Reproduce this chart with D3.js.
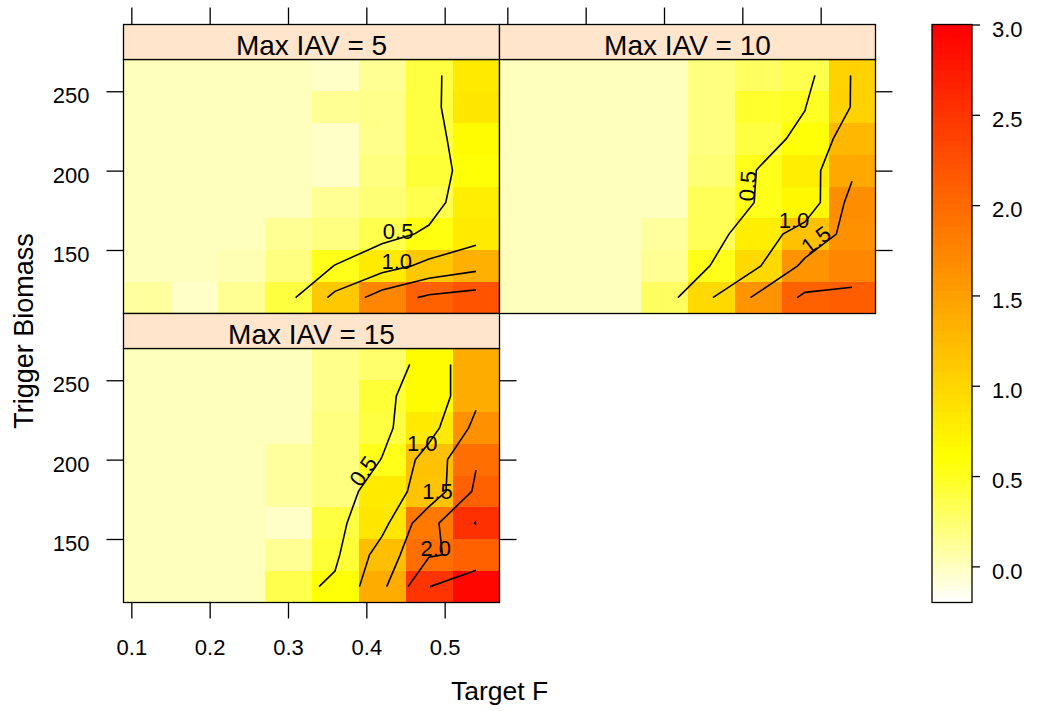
<!DOCTYPE html>
<html>
<head>
<meta charset="utf-8">
<script src="https://cdn.jsdelivr.net/npm/d3@7"></script>
<style>
  body { margin: 0; background: #fff; }
  svg text { font-family: "Liberation Sans", Arial, Helvetica, sans-serif; fill: #000; }
</style>
</head>
<body>
<div id="chart"></div>
<script>
// simulation grid: target F along x, trigger biomass along y (top row first)
const targetF = [0.12, 0.18, 0.24, 0.30, 0.36, 0.42, 0.48, 0.54];
const triggerBiomass = [260, 240, 220, 200, 180, 160, 140, 120];
const panelNames = ["Max IAV = 5", "Max IAV = 10", "Max IAV = 15"];

const iav5 = [
  [0.02, 0.02, 0.02, 0.00, -0.04, 0.15, 0.38, 0.82],
  [0.02, 0.02, 0.02, 0.00, 0.14, 0.17, 0.38, 0.84],
  [0.02, 0.02, 0.02, 0.00, -0.03, 0.18, 0.40, 0.66],
  [0.02, 0.02, 0.02, 0.00, -0.03, 0.20, 0.42, 0.58],
  [0.02, 0.02, 0.02, 0.00, 0.12, 0.24, 0.35, 0.77],
  [0.02, 0.02, 0.02, 0.14, 0.19, 0.37, 0.56, 0.81],
  [0.02, 0.02, 0.03, 0.19, 0.51, 0.80, 1.12, 1.35],
  [0.09, -0.03, 0.15, 0.38, 1.12, 1.72, 2.09, 2.21]
];
const iav10 = [
  [0.02, 0.02, 0.02, 0.00, 0.19, 0.30, 0.36, 1.02],
  [0.02, 0.02, 0.02, 0.00, 0.19, 0.45, 0.49, 1.02],
  [0.02, 0.02, 0.02, 0.00, 0.19, 0.38, 0.58, 1.28],
  [0.02, 0.02, 0.02, 0.00, 0.24, 0.51, 0.79, 1.42],
  [0.02, 0.02, 0.02, 0.00, 0.33, 0.515, 0.68, 1.66],
  [0.02, 0.02, 0.02, 0.09, 0.33, 0.775, 1.20, 1.65],
  [0.02, 0.02, 0.02, 0.12, 0.51, 0.96, 1.60, 1.75],
  [0.02, 0.02, 0.02, 0.30, 0.975, 1.60, 2.08, 2.12]
];
const iav15 = [
  [0.02, 0.02, 0.02, 0.00, 0.18, 0.27, 0.66, 1.40],
  [0.02, 0.02, 0.02, 0.00, 0.18, 0.43, 0.66, 1.40],
  [0.02, 0.02, 0.02, 0.00, 0.19, 0.40, 0.82, 1.625],
  [0.02, 0.02, 0.02, 0.09, 0.19, 0.51, 1.20, 1.96],
  [0.02, 0.02, 0.02, 0.09, 0.20, 0.80, 1.17, 2.08],
  [0.02, 0.02, 0.02, -0.02, 0.38, 0.85, 1.86, 2.52],
  [0.02, 0.02, 0.02, 0.14, 0.42, 1.21, 1.96, 2.10],
  [0.02, 0.02, 0.02, 0.35, 0.577, 1.39, 2.49, 2.92]
];

const contourLevels = [0.5, 1.0, 1.5, 2.0, 2.5];
const xTicks = [0.1, 0.2, 0.3, 0.4, 0.5];
const yTicks = [150, 200, 250];
const keyRange = [-0.2, 3.0];
const keyTicks = [0, 0.5, 1, 1.5, 2, 2.5, 3];

const width = 1037, height = 711;
const panelW = 376, panelH = 254, stripH = 35;
const leftX = 123.5, topY = 24.5;
const tickLen = 17;

const panels = [
  { name: panelNames[0], z: iav5, col: 0, row: 0 },
  { name: panelNames[1], z: iav10, col: 1, row: 0 },
  { name: panelNames[2], z: iav15, col: 0, row: 1 }
];

const svg = d3.select("#chart")
  .append("svg")
  .attr("width", width)
  .attr("height", height);

// reversed heat.colors(100), as R builds it
const nCol = 100;
function hsv(h, s, v) {
  const f = h * 6;
  const r = v, g = v * (1 - s * (1 - f)), b = v * (1 - s);
  return d3.rgb(r * 255, g * 255, b * 255).formatHex();
}
const jj = Math.floor(nCol / 4), ii = nCol - jj;
const heat = d3.range(nCol).map(k => {
  if (k < ii) return hsv(k / (ii - 1) / 6, 1, 1);
  const m = k - ii;
  const s0 = 1 - 1 / (2 * jj), s1 = 1 / (2 * jj);
  return hsv(1 / 6, s0 + m * (s1 - s0) / (jj - 1), 1);
}).reverse();
const colorOf = v => {
  const k = Math.floor((v - keyRange[0]) / (keyRange[1] - keyRange[0]) * nCol);
  return heat[Math.max(0, Math.min(nCol - 1, k))];
};

const dx = targetF[1] - targetF[0];
const dy = Math.abs(triggerBiomass[0] - triggerBiomass[1]);
const x = d3.scaleLinear()
  .domain([d3.min(targetF) - dx / 2, d3.max(targetF) + dx / 2])
  .range([0, panelW]);
const y = d3.scaleLinear()
  .domain([d3.min(triggerBiomass) - dy / 2, d3.max(triggerBiomass) + dy / 2])
  .range([panelH, 0]);

// marching squares -> polylines (like contourLines)
function contourLines(z, level) {
  const xs = targetF;
  const order = d3.range(triggerBiomass.length).sort((a, b) => triggerBiomass[a] - triggerBiomass[b]);
  const ys = order.map(k => triggerBiomass[k]);
  const g = order.map(k => z[k]);
  const pts = new Map(), adj = new Map();
  const addPt = (key, xa, ya, za, xb, yb, zb) => {
    if (!pts.has(key)) {
      const t = (level - za) / (zb - za);
      pts.set(key, [xa + t * (xb - xa), ya + t * (yb - ya)]);
    }
    return key;
  };
  const link = (a, b) => {
    if (!adj.has(a)) adj.set(a, []);
    if (!adj.has(b)) adj.set(b, []);
    adj.get(a).push(b);
    adj.get(b).push(a);
  };
  const up = v => v >= level;
  for (let i = 0; i < xs.length - 1; i++) {
    for (let j = 0; j < ys.length - 1; j++) {
      const z00 = g[j][i], z10 = g[j][i + 1], z01 = g[j + 1][i], z11 = g[j + 1][i + 1];
      const e = {};
      if (up(z00) !== up(z10)) e.b = addPt(`h${i},${j}`, xs[i], ys[j], z00, xs[i + 1], ys[j], z10);
      if (up(z10) !== up(z11)) e.r = addPt(`v${i + 1},${j}`, xs[i + 1], ys[j], z10, xs[i + 1], ys[j + 1], z11);
      if (up(z01) !== up(z11)) e.t = addPt(`h${i},${j + 1}`, xs[i], ys[j + 1], z01, xs[i + 1], ys[j + 1], z11);
      if (up(z00) !== up(z01)) e.l = addPt(`v${i},${j}`, xs[i], ys[j], z00, xs[i], ys[j + 1], z01);
      const ks = Object.keys(e);
      if (ks.length === 2) link(e[ks[0]], e[ks[1]]);
      else if (ks.length === 4) {
        const c = up((z00 + z10 + z01 + z11) / 4);
        if (c === up(z00)) { link(e.b, e.r); link(e.t, e.l); }
        else { link(e.b, e.l); link(e.r, e.t); }
      }
    }
  }
  const used = new Set(), lines = [];
  const trace = start => {
    const line = [start];
    used.add(start);
    let cur = start;
    for (;;) {
      const nxt = adj.get(cur).find(k => !used.has(k));
      if (!nxt) break;
      line.push(nxt);
      used.add(nxt);
      cur = nxt;
    }
    return line.map(k => pts.get(k));
  };
  const ends = [...adj.keys()].filter(k => adj.get(k).length === 1);
  ends.forEach(k => { if (!used.has(k)) lines.push(trace(k)); });
  [...adj.keys()].forEach(k => {
    if (!used.has(k)) { const l = trace(k); l.push(l[0]); lines.push(l); }
  });
  // run each line from its lower end
  return lines.map(l => {
    const a = l[0], b = l[l.length - 1];
    return (a[1] > b[1] || (a[1] === b[1] && a[0] > b[0])) ? l.reverse() : l;
  });
}

const line = d3.line().x(d => x(d[0])).y(d => y(d[1]));

panels.forEach(p => {
  const g = svg.append("g")
    .attr("transform", `translate(${leftX + p.col * panelW},${topY + stripH + p.row * (stripH + panelH)})`);

  // cells
  const cells = [];
  p.z.forEach((row, r) => row.forEach((v, c) => cells.push({ f: targetF[c], b: triggerBiomass[r], v })));
  g.selectAll("rect.cell")
    .data(cells)
    .enter()
    .append("rect")
    .attr("class", "cell")
    .attr("x", d => x(d.f - dx / 2))
    .attr("y", d => y(d.b + dy / 2))
    .attr("width", d => x(d.f + dx / 2) - x(d.f - dx / 2) + 0.5)
    .attr("height", d => y(d.b - dy / 2) - y(d.b + dy / 2) + 0.5)
    .attr("fill", d => colorOf(d.v))
    .attr("shape-rendering", "crispEdges");

  // contour lines and labels
  const rx = d3.extent(targetF), ry = d3.extent(triggerBiomass);
  const aspect = (panelH / (y.domain()[1] - y.domain()[0])) / (panelW / (x.domain()[1] - x.domain()[0]));
  contourLevels.forEach(level => {
    contourLines(p.z, level).forEach(l => {
      g.append("path")
        .attr("d", line(l))
        .attr("fill", "none")
        .attr("stroke", "#000")
        .attr("stroke-width", 1.6);
      if (l.length <= 5) return;
      const slopes = d3.pairs(l, (a, b) => (b[1] - a[1]) / (b[0] - a[0]));
      const depth = l.map(q => Math.min(
        Math.min(q[0] - rx[0], rx[1] - q[0]) / (rx[1] - rx[0]),
        Math.min(q[1] - ry[0], ry[1] - q[1]) / (ry[1] - ry[0])));
      let loc = d3.minIndex(slopes, s => Math.abs(s));
      let rot = 0;
      if (depth[loc] < 0.05) {
        let best = -Infinity;
        depth.forEach((d, k) => {
          if (d > best + 1e-9) { best = d; loc = k; }
          else if (Math.abs(d - best) <= 1e-9) loc = k;
        });
        loc = Math.min(loc, slopes.length - 1);
        rot = Math.atan(slopes[loc] * aspect) * 180 / Math.PI;
      }
      const mx = (l[loc][0] + l[loc + 1][0]) / 2, my = (l[loc][1] + l[loc + 1][1]) / 2;
      g.append("text")
        .attr("transform", `translate(${x(mx)},${y(my)}) rotate(${-rot})`)
        .attr("text-anchor", "middle")
        .style("font-size", "22px")
        .text(d3.format(".1f")(level));
    });
  });

  g.append("rect")
    .attr("width", panelW)
    .attr("height", panelH)
    .attr("fill", "none")
    .attr("stroke", "#000")
    .attr("stroke-width", 1.3);

  // strip
  g.append("rect")
    .attr("y", -stripH)
    .attr("width", panelW)
    .attr("height", stripH)
    .attr("fill", "#ffe5cc")
    .attr("stroke", "#000")
    .attr("stroke-width", 1.3);
  g.append("text")
    .attr("x", panelW / 2)
    .attr("y", -stripH + 30)
    .attr("text-anchor", "middle")
    .style("font-size", "28px")
    .text(p.name);

  // axes
  const styleAxis = a => {
    a.select(".domain").remove();
    a.selectAll(".tick line").attr("stroke", "#000").attr("stroke-width", 1.3);
    a.selectAll(".tick text").style("font-size", "22px").attr("font-family", null);
  };
  if (p.row === 0) {
    g.append("g").attr("transform", `translate(0,${-stripH})`)
      .call(d3.axisTop(x).tickValues(xTicks).tickSize(tickLen).tickFormat(""))
      .call(styleAxis);
  }
  if (p.col === 0) {
    g.append("g")
      .call(d3.axisLeft(y).tickValues(yTicks).tickSize(tickLen).tickPadding(17).tickFormat(d3.format("d")))
      .call(styleAxis)
      .call(a => a.selectAll(".tick text").attr("dy", "0.53em"));
  }
  if (p.col === 1 || p.row === 1) {
    g.append("g").attr("transform", `translate(${panelW},0)`)
      .call(d3.axisRight(y).tickValues(yTicks).tickSize(tickLen).tickFormat(""))
      .call(styleAxis);
  }
  if (p.row === 1) {
    g.append("g").attr("transform", `translate(0,${panelH})`)
      .call(d3.axisBottom(x).tickValues(xTicks).tickSize(16).tickPadding(21).tickFormat(d3.format(".1f")))
      .call(styleAxis);
  }
});

// axis titles
svg.append("text")
  .attr("x", leftX + panelW)
  .attr("y", 700)
  .attr("text-anchor", "middle")
  .style("font-size", "26.5px")
  .text("Target F");
svg.append("text")
  .attr("transform", `translate(32.5,${topY + stripH + (2 * panelH + stripH) / 2}) rotate(-90)`)
  .attr("text-anchor", "middle")
  .style("font-size", "27px")
  .text("Trigger Biomass");

// colour key
const keyH = 2 * panelH + 2 * stripH;
const key = svg.append("g").attr("transform", `translate(932,${topY})`);
const ky = d3.scaleLinear().domain(keyRange).range([keyH, 0]);
const step = (keyRange[1] - keyRange[0]) / nCol;
key.selectAll("rect.k")
  .data(heat)
  .enter()
  .append("rect")
  .attr("class", "k")
  .attr("x", 0)
  .attr("width", 40)
  .attr("y", (d, k) => ky(keyRange[0] + (k + 1) * step))
  .attr("height", (d, k) => ky(keyRange[0] + k * step) - ky(keyRange[0] + (k + 1) * step) + 0.5)
  .attr("fill", d => d)
  .attr("shape-rendering", "crispEdges");
key.append("rect")
  .attr("width", 40)
  .attr("height", keyH)
  .attr("fill", "none")
  .attr("stroke", "#000")
  .attr("stroke-width", 1.3);
key.append("g").attr("transform", "translate(40,0)")
  .call(d3.axisRight(ky).tickValues(keyTicks).tickSize(8).tickPadding(12).tickFormat(d3.format(".1f")))
  .call(a => {
    a.select(".domain").remove();
    a.selectAll(".tick line").attr("stroke", "#000").attr("stroke-width", 1.3);
    a.selectAll(".tick text").style("font-size", "22px").attr("font-family", null).attr("dy", "0.53em");
  });
</script>
</body>
</html>
